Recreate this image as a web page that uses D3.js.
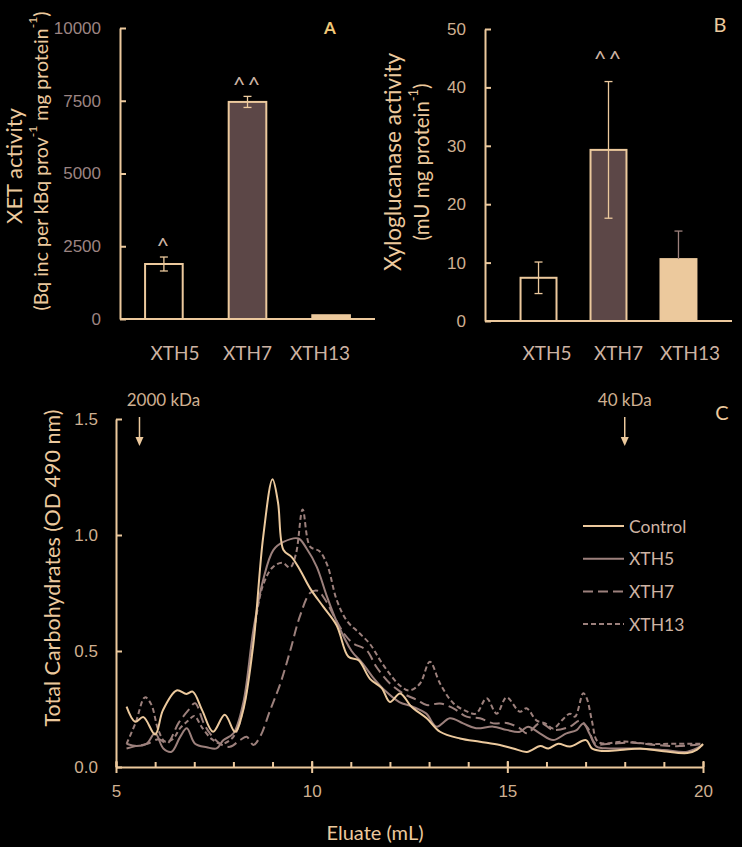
<!DOCTYPE html>
<html><head><meta charset="utf-8">
<script src="https://cdn.jsdelivr.net/npm/d3@7"></script>
<style>
html,body{margin:0;padding:0;background:#000;}
svg{display:block;font-family:Lato,"Open Sans",sans-serif;}
</style></head>
<body>
<svg id="chart" width="742" height="847"></svg>
<script>
// ---------- data ----------
const categories = ["XTH5", "XTH7", "XTH13"];
const xetValues = [1890, 7460, 130];
const xetErrors = [240, 190, 0];
const xetMarks = ["^", "^^", ""];
const xyloValues = [7.4, 29.3, 10.6];
const xyloErrors = [2.7, 11.7, 4.8];
const xyloMarks = ["", "^^", ""];
const xetTicks = [0, 2500, 5000, 7500, 10000];
const xyloTicks = [0, 10, 20, 30, 40, 50];
const odTicks = [0, 0.5, 1.0, 1.5];
const eluateTicks = [5, 10, 15, 20];
const eluateMinor = [5,6,7,8,9,10,11,12,13,14,15,16,17,18,19,20];
const seriesNames = ["Control", "XTH5", "XTH7", "XTH13"];
const controlData = [[5.27,0.26],[5.49,0.195],[5.7,0.215],[6.0,0.14],[6.2,0.245],[6.55,0.33],[6.8,0.315],[6.96,0.325],[7.2,0.245],[7.48,0.152],[7.78,0.225],[8.04,0.152],[8.25,0.245],[8.51,0.53],[8.76,0.99],[9.0,1.24],[9.14,1.14],[9.28,0.935],[9.49,0.905],[9.7,0.85],[9.96,0.77],[10.3,0.69],[10.64,0.61],[10.94,0.475],[11.2,0.46],[11.49,0.38],[11.79,0.34],[12.0,0.28],[12.26,0.317],[12.55,0.26],[12.94,0.21],[13.28,0.152],[13.79,0.123],[14.3,0.109],[14.81,0.095],[15.15,0.08],[15.5,0.065],[15.84,0.09],[16.05,0.08],[16.3,0.1],[16.6,0.088],[17.01,0.116],[17.16,0.08],[17.37,0.07],[17.88,0.073],[18.4,0.08],[18.99,0.068],[19.6,0.06],[19.85,0.075],[20.0,0.1]];
const xth5Data = [[5.27,0.10],[5.53,0.09],[5.78,0.10],[6.0,0.145],[6.21,0.08],[6.42,0.066],[6.64,0.13],[6.81,0.167],[7.02,0.10],[7.32,0.085],[7.57,0.08],[7.74,0.115],[8.0,0.145],[8.25,0.275],[8.51,0.59],[8.76,0.806],[9.02,0.935],[9.28,0.97],[9.66,0.985],[9.87,0.942],[10.13,0.863],[10.38,0.74],[10.64,0.626],[11.02,0.5],[11.3,0.447],[11.55,0.39],[11.9,0.325],[12.24,0.28],[12.58,0.26],[12.93,0.23],[13.19,0.174],[13.53,0.21],[13.87,0.188],[14.2,0.167],[14.64,0.174],[14.98,0.16],[15.32,0.152],[15.53,0.174],[15.83,0.145],[16.17,0.116],[16.51,0.145],[16.77,0.159],[16.94,0.188],[17.11,0.14],[17.28,0.088],[17.6,0.08],[18.2,0.08],[19.0,0.073],[19.6,0.066],[20.0,0.095]];
const xth7Data = [[5.27,0.08],[5.5,0.09],[5.8,0.10],[6.1,0.12],[6.3,0.10],[6.6,0.19],[6.85,0.245],[7.02,0.275],[7.24,0.19],[7.4,0.145],[7.66,0.10],[7.91,0.087],[8.17,0.116],[8.34,0.13],[8.51,0.095],[8.68,0.13],[8.94,0.245],[9.2,0.36],[9.45,0.5],[9.7,0.65],[9.96,0.75],[10.15,0.76],[10.35,0.72],[10.6,0.64],[10.85,0.57],[11.06,0.533],[11.4,0.504],[11.66,0.43],[12.0,0.36],[12.34,0.317],[12.68,0.29],[12.94,0.267],[13.28,0.274],[13.62,0.253],[13.96,0.217],[14.3,0.21],[14.64,0.188],[14.98,0.19],[15.32,0.167],[15.5,0.145],[15.84,0.19],[16.17,0.16],[16.6,0.174],[16.85,0.2],[17.05,0.17],[17.25,0.1],[17.6,0.1],[18.2,0.105],[18.8,0.095],[19.4,0.09],[20.0,0.1]];
const xth13Data = [[5.27,0.10],[5.5,0.19],[5.74,0.30],[5.9,0.27],[6.08,0.16],[6.25,0.11],[6.45,0.12],[6.65,0.17],[6.85,0.2],[7.0,0.22],[7.2,0.17],[7.45,0.12],[7.7,0.10],[8.0,0.13],[8.25,0.25],[8.5,0.55],[8.75,0.78],[9.0,0.86],[9.25,0.88],[9.45,0.86],[9.6,0.92],[9.77,1.11],[9.96,0.95],[10.2,0.93],[10.4,0.87],[10.64,0.72],[10.9,0.63],[11.2,0.58],[11.49,0.53],[11.75,0.46],[12.0,0.4],[12.26,0.35],[12.5,0.33],[12.77,0.36],[13.02,0.454],[13.28,0.36],[13.62,0.275],[13.96,0.24],[14.2,0.23],[14.47,0.296],[14.73,0.23],[14.98,0.30],[15.32,0.238],[15.49,0.253],[15.75,0.2],[15.97,0.188],[16.17,0.166],[16.39,0.2],[16.6,0.23],[16.73,0.217],[16.94,0.318],[17.03,0.296],[17.16,0.2],[17.28,0.116],[17.41,0.102],[18.0,0.11],[18.6,0.1],[19.2,0.1],[20.0,0.1]];
const markers = [{label:"2000 kDa", at:5.6, dx:24}, {label:"40 kDa", at:18.0, dx:0}];

// ---------- styles ----------
const TAN = "#ecc99d", MAUVE = "#9c807c", DARK = "#5c4747";
const TICKA = "#9c8482", TICKB = "#cfb091", CATTXT = "#cdb3a3";
const barFill = {XTH5: "#000", XTH7: DARK, XTH13: TAN};
const errColorA = {XTH5: TAN, XTH7: TAN, XTH13: TAN};
const errColorB = {XTH5: TAN, XTH7: TAN, XTH13: MAUVE};
const svg = d3.select("#chart");

function styleAxis(g, col) {
  g.selectAll(".domain").attr("stroke", TAN).attr("stroke-width", 2);
  g.selectAll(".tick line").attr("stroke", TAN).attr("stroke-width", 2);
  g.selectAll(".tick text").attr("fill", col).attr("font-size", 17);
}

function barPanel(opt) {
  const x = d3.scaleBand().domain(categories).range(opt.xr).paddingInner(opt.pi).paddingOuter(opt.po);
  const xl = d3.scalePoint().domain(categories).range(opt.lr);
  const y = d3.scaleLinear().domain(opt.yd).range(opt.yr);
  const g = svg.append("g");
  const ya = g.append("g").attr("transform", `translate(${opt.xr[0]},0)`)
    .call(d3.axisLeft(y).tickValues(opt.ticks).tickSize(-6).tickSizeOuter(0).tickPadding(19).tickFormat(d3.format("d")));
  styleAxis(ya, opt.tickCol);
  g.append("line").attr("x1", opt.xr[0]).attr("x2", opt.xEnd).attr("y1", y(0)).attr("y2", y(0))
    .attr("stroke", TAN).attr("stroke-width", 2);
  const rows = categories.map((c, i) => ({c, v: opt.vals[i], e: opt.errs[i], m: opt.marks[i]}));
  g.selectAll("rect.bar").data(rows).join("rect")
    .attr("x", d => x(d.c)).attr("width", x.bandwidth())
    .attr("y", d => y(d.v)).attr("height", d => y(0) - y(d.v))
    .attr("fill", d => barFill[d.c]).attr("stroke", TAN).attr("stroke-width", 2);
  const eb = g.selectAll("g.err").data(rows.filter(d => d.e > 0)).join("g");
  const lower = d => barFill[d.c] === TAN ? d.v : d.v - d.e;
  const cx = d => x(d.c) + x.bandwidth()/2;
  eb.append("line").attr("x1", cx).attr("x2", cx)
    .attr("y1", d => y(d.v + d.e)).attr("y2", d => y(lower(d)))
    .attr("stroke", d => opt.errCol[d.c]).attr("stroke-width", 1.3);
  eb.append("line").attr("x1", d => cx(d) - 4).attr("x2", d => cx(d) + 4)
    .attr("y1", d => y(d.v + d.e)).attr("y2", d => y(d.v + d.e))
    .attr("stroke", d => opt.errCol[d.c]).attr("stroke-width", 1.3);
  eb.filter(d => barFill[d.c] !== TAN).append("line")
    .attr("x1", d => cx(d) - 4).attr("x2", d => cx(d) + 4)
    .attr("y1", d => y(d.v - d.e)).attr("y2", d => y(d.v - d.e))
    .attr("stroke", d => opt.errCol[d.c]).attr("stroke-width", 1.3);
  g.selectAll("text.mark").data(rows.filter(d => d.m)).join("text")
    .attr("x", cx).attr("y", d => y(d.v + d.e) - opt.markGap)
    .attr("text-anchor", "middle").attr("fill", CATTXT).attr("font-size", 22)
    .attr("letter-spacing", 2).text(d => d.m);
  g.selectAll("text.cat").data(categories).join("text")
    .attr("x", d => xl(d)).attr("y", 360).attr("text-anchor", "middle")
    .attr("fill", CATTXT).attr("font-size", 19).text(d => d);
  return g;
}

// Panel A
barPanel({xr:[120,375], xEnd:375, pi:0.55, po:0.3, lr:[175,320], yd:[0,10000], yr:[319,28],
  ticks: xetTicks, vals: xetValues, errs: xetErrors, marks: xetMarks, errCol: errColorA, tickCol: TICKA, markGap: 4});
// Panel B
barPanel({xr:[485,732], xEnd:732, pi:0.486, po:0.508, lr:[547,690], yd:[0,50], yr:[321,29],
  ticks: xyloTicks, vals: xyloValues, errs: xyloErrors, marks: xyloMarks, errCol: errColorB, tickCol: TICKB, markGap: 16});

// Y labels
function rotLabel(x, y, size, parts) {
  const t = svg.append("text").attr("transform", `translate(${x},${y}) rotate(-90)`)
    .attr("text-anchor", "middle").attr("dominant-baseline", "central")
    .attr("fill", TAN).attr("font-size", size);
  parts.forEach(p => {
    const s = t.append("tspan").text(p.t);
    if (p.sup) s.attr("font-size", size * 0.62).attr("baseline-shift", "super");
  });
  return t;
}
rotLabel(13, 166, 22, [{t:"XET activity"}]);
rotLabel(40, 161, 19.5, [{t:"(Bq inc per kBq prov"},{t:"-1",sup:true},{t:" mg protein"},{t:"-1",sup:true},{t:")"}]);
rotLabel(392, 162, 22.5, [{t:"Xyloglucanase activity"}]);
rotLabel(421, 162, 20.5, [{t:"(mU mg  protein"},{t:"-1",sup:true},{t:")"}]);

svg.append("text").attr("x", 330).attr("y", 34).attr("text-anchor", "middle")
  .attr("fill", "#f0c878").attr("font-size", 17).attr("font-weight", "bold").text("A");
svg.append("text").attr("x", 720).attr("y", 32).attr("text-anchor", "middle")
  .attr("fill", TAN).attr("font-size", 20).text("B");
svg.append("text").attr("x", 722).attr("y", 420).attr("text-anchor", "middle")
  .attr("fill", TAN).attr("font-size", 20).text("C");

// ---------- Panel C ----------
const xc = d3.scaleLinear().domain([5, 20]).range([116, 703]);
const yc = d3.scaleLinear().domain([0, 1.5]).range([767, 419]);
const gc = svg.append("g");
const yax = gc.append("g").attr("transform", "translate(116,0)")
  .call(d3.axisLeft(yc).tickValues(odTicks).tickSize(-6).tickSizeOuter(0).tickPadding(18).tickFormat(d3.format(".1f")));
styleAxis(yax, TICKB);
const xmin = gc.append("g").attr("transform", "translate(0,767)")
  .call(d3.axisBottom(xc).tickValues(eluateMinor).tickSize(-5).tickSizeOuter(0).tickFormat(""));
styleAxis(xmin, TICKB);
const xmaj = gc.append("g").attr("transform", "translate(0,767)")
  .call(d3.axisBottom(xc).tickValues(eluateTicks).tickSize(6).tickSizeOuter(0).tickPadding(12));
styleAxis(xmaj, TICKB);
xmaj.selectAll(".tick line").attr("y1", -6);
xmaj.selectAll(".domain").remove();

const lineGen = d3.line().x(d => xc(d[0])).y(d => yc(d[1])).curve(d3.curveCatmullRom.alpha(0.5));
const seriesData = [controlData, xth5Data, xth7Data, xth13Data];
const seriesColor = [TAN, MAUVE, MAUVE, MAUVE];
const seriesDash = [null, null, "10,5", "5,3"];
[3, 2, 1, 0].forEach(i => {
  gc.append("path").datum(seriesData[i]).attr("d", lineGen)
    .attr("fill", "none").attr("stroke", seriesColor[i]).attr("stroke-width", 2)
    .attr("stroke-dasharray", seriesDash[i]);
});

// Legend
const lg = gc.append("g");
seriesNames.forEach((n, i) => {
  const yy = 526 + i * 32.7;
  lg.append("line").attr("x1", 583).attr("x2", 624).attr("y1", yy).attr("y2", yy)
    .attr("stroke", seriesColor[i]).attr("stroke-width", 2).attr("stroke-dasharray", seriesDash[i]);
  lg.append("text").attr("x", 629).attr("y", yy).attr("dominant-baseline", "central")
    .attr("fill", CATTXT).attr("font-size", 17.5).text(n);
});

// Markers
const mk = gc.selectAll("g.mk").data(markers).join("g");
mk.append("text").attr("x", d => xc(d.at) + d.dx).attr("y", 406)
  .attr("text-anchor", "middle").attr("fill", TICKB).attr("font-size", 17).text(d => d.label);
mk.append("line").attr("x1", d => xc(d.at)).attr("x2", d => xc(d.at)).attr("y1", 417).attr("y2", 438)
  .attr("stroke", TAN).attr("stroke-width", 1.5);
mk.append("path").attr("d", d => `M${xc(d.at)-4},437 L${xc(d.at)+4},437 L${xc(d.at)},446 Z`).attr("fill", TAN);

// Axis titles
svg.append("text").attr("x", 375).attr("y", 832).attr("text-anchor", "middle").attr("dominant-baseline", "central")
  .attr("fill", TAN).attr("font-size", 20).text("Eluate (mL)");
rotLabel(52, 568, 21.5, [{t:"Total Carbohydrates (OD 490 nm)"}]);
</script>
</body></html>
